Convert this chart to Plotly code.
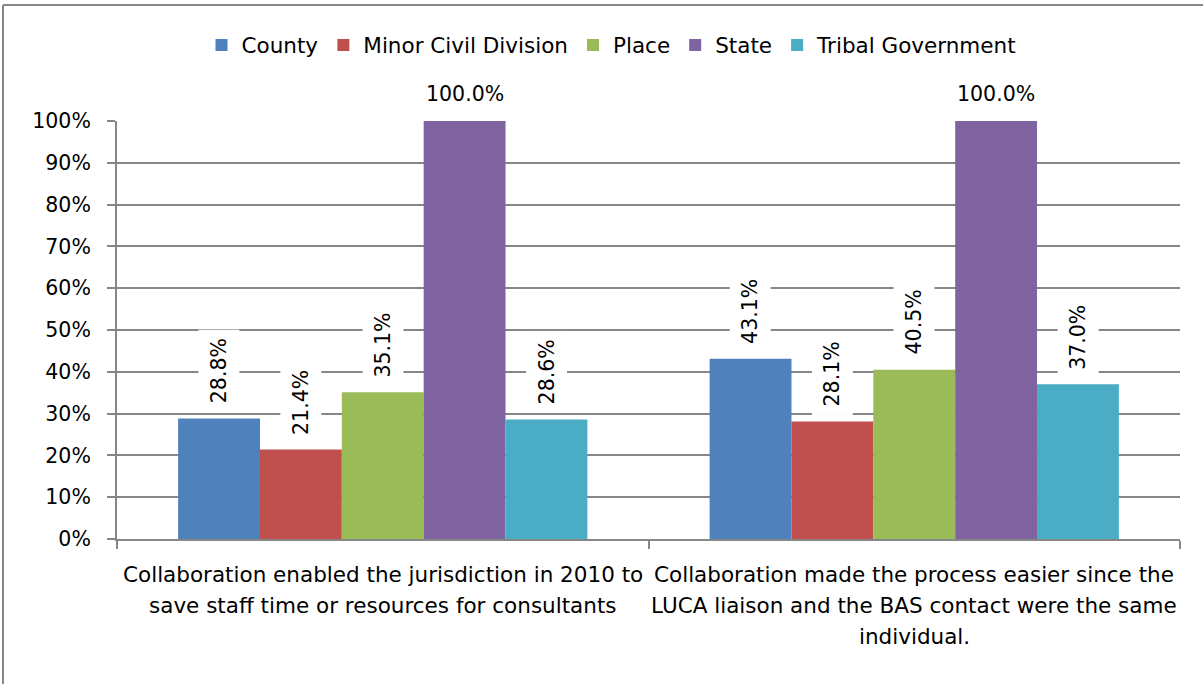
import plotly.graph_objects as go

# chart data
categories = ['cat1', 'cat2']
cat_lines = [
    ['Collaboration enabled the jurisdiction in 2010 to',
     'save staff time or resources for consultants'],
    ['Collaboration made the process easier since the',
     'LUCA liaison and the BAS contact were the same',
     'individual.'],
]
series = ['County', 'Minor Civil Division', 'Place', 'State', 'Tribal Government']
county = [28.8, 43.1]
minor_civil = [21.4, 28.1]
place = [35.1, 40.5]
state = [100.0, 100.0]
tribal = [28.6, 37.0]
colors = ['#4F81BD', '#C0504D', '#9BBB59', '#8064A2', '#4BACC6']

values = [county, minor_civil, place, state, tribal]

# page geometry
W, H = 1203, 684
L, R, T, B = 117, 23, 121, 145
pw, ph = W - L - R, H - T - B
bargap = 0.23
font = 'DejaVu Sans'
grid = '#868686'

def px(x):
    return (x - L) / pw

def py(y):
    return (H - B - y) / ph

fig = go.Figure()
for name, vals, col in zip(series, values, colors):
    fig.add_trace(go.Bar(x=categories, y=vals, name=name, marker_color=col,
                         marker_line_width=0))

# value labels, white boxed, rotated when inside the plot
bar_px = pw / len(categories) * (1 - bargap) / len(series)
annotations = []
for i, vals in enumerate(values):
    for cat, v in zip(categories, vals):
        annotations.append(dict(
            x=cat, y=v, xref='x', yref='y', text='%.1f%%' % v,
            showarrow=False, textangle=0 if v >= 100 else -90,
            xshift=(i - (len(series) - 1) / 2) * bar_px,
            yanchor='bottom', yshift=6, bgcolor='white', borderpad=8,
            font=dict(family=font, size=20.5, color='black')))

# category labels, one line per annotation for the wide line spacing
for cat, lines in zip(categories, cat_lines):
    for k, line in enumerate(lines):
        annotations.append(dict(
            x=cat, y=0, xref='x', yref='paper', text=line, showarrow=False,
            yanchor='middle', yshift=-35 - 31 * k,
            font=dict(family=font, size=21.5, color='black')))

# outer chart frame (top and left edges visible)
shapes = [
    dict(type='line', xref='paper', yref='paper', x0=px(3), x1=px(W), y0=py(5), y1=py(5),
         line=dict(color=grid, width=2)),
    dict(type='line', xref='paper', yref='paper', x0=px(3), x1=px(3), y0=py(5), y1=py(H),
         line=dict(color=grid, width=2)),
]

fig.update_layout(
    width=W, height=H,
    margin=dict(l=L, r=R, t=T, b=B, pad=0, autoexpand=False),
    barmode='group', bargap=bargap, bargroupgap=0,
    plot_bgcolor='white', paper_bgcolor='white',
    font=dict(family=font, size=20.5, color='black'),
    showlegend=True,
    legend=dict(orientation='h', x=px(612), xanchor='center', y=py(45), yanchor='middle',
                font=dict(family=font, size=21.5), itemsizing='constant'),
    annotations=annotations,
    shapes=shapes,
)

fig.update_xaxes(showticklabels=False, ticks='outside', tickson='boundaries', ticklen=8,
                 tickcolor=grid, tickwidth=2, showline=True, linecolor=grid, linewidth=2,
                 showgrid=False)
fig.update_yaxes(range=[0, 100], dtick=10, ticksuffix='%', ticks='outside', ticklen=8,
                 tickcolor=grid, tickwidth=2, showline=True, linecolor=grid, linewidth=2,
                 gridcolor=grid, gridwidth=2, zeroline=False, ticklabelstandoff=12)

# drop the browser's default body margin so the figure sits at the page origin
fig.write_html('out.html', config={'displayModeBar': False},
               post_script="document.body.style.margin='0';")
